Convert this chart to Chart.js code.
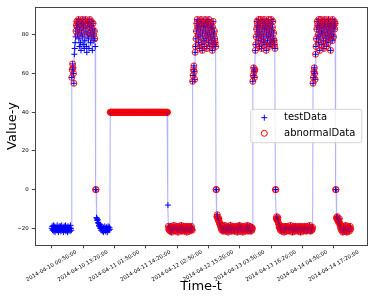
<!DOCTYPE html>
<html>
<head>
<meta charset="utf-8">
<script src="https://cdn.jsdelivr.net/npm/chart.js@4/dist/chart.umd.min.js"></script>
<style>
  html, body { margin: 0; padding: 0; background: #ffffff; }
</style>
</head>
<body>
<canvas id="c" width="374" height="299"></canvas>
<script>
// ---------------- data ----------------
const tickLabels = [
  '2014-04-10 00:50:00', '2014-04-10 13:20:00', '2014-04-11 01:50:00',
  '2014-04-11 14:20:00', '2014-04-12 02:50:00', '2014-04-12 15:20:00',
  '2014-04-13 03:50:00', '2014-04-13 16:20:00', '2014-04-14 04:50:00',
  '2014-04-14 17:20:00'
];
const startTime = '2014-04-10 00:50:00';
const sampleMinutes = 10;            // one value every 10 minutes
const yTicks = [-20, 0, 20, 40, 60, 80];

// testData values, in time order
const day10Low  = [-20, -19, -21, -20.5, -18.5, -21.5, -20, -19,
                   -22, -20.5, -19.5, -21, -20, -18.5, -21, -19.5,
                   -22, -20, -19, -21, -20.5, -19, -21.5, -20,
                   -18.5, -20.5, -21, -19.5, -22, -20, -19, -21,
                   -20.5, -18.5, -21.5, -20, -19.5, -21, -22, -19,
                   -20.5, -21, -19.5, -20, -21.5, -18.5, -20, -21];
const day10Rise = [58, 62, 65, 63, 60, 55];
const day10High = [70, 73, 76, 79, 82, 85, 87, 84, 80, 86,
                   88, 78, 74, 83, 87, 76, 72, 81, 86, 88,
                   79, 75, 84, 87, 73, 77, 85, 88, 82, 74,
                   71, 80, 86, 87, 78, 73, 84, 88, 81, 76,
                   85, 87, 79, 72, 83, 86, 80, 77, 82, 78, 74];
const day10Drop = [0, 0];
const day10Eve  = [-14.5, -15, -16, -15.5, -17, -17.5, -18.5, -19, -18, -20,
                   -19.5, -21, -20, -19, -21.5, -20.5, -19.5, -22, -20, -21,
                   -19, -20.5, -21.5, -20, -19.5, -21, -22, -20, -19, -20.5,
                   -21, -19.5, -20.5];
const day11Flat = [40, 40, 40, 40, 40, 40, 40, 40, 40, 40, 40, 40, 40, 40, 40, 40, 40, 40, 40, 40, 40, 40, 40,
                   40, 40, 40, 40, 40, 40, 40, 40, 40, 40, 40, 40, 40, 40, 40, 40, 40, 40, 40, 40, 40, 40, 40,
                   40, 40, 40, 40, 40, 40, 40, 40, 40, 40, 40, 40, 40, 40, 40, 40, 40, 40, 40, 40, 40, 40, 40,
                   40, 40, 40, 40, 40, 40, 40, 40, 40, 40, 40, 40, 40, 40, 40, 40, 40, 40, 40, 40, 40, 40, 40,
                   40, 40, 40, 40, 40, 40, 40, 40, 40, 40, 40, 40, 40, 40, 40, 40, 40, 40, 40, 40, 40, 40, 40,
                   40, 40, 40, 40, 40, 40, 40, 40, 40, 40, 40, 40, 40, 40, 40, 40, 40, 40, 40, 40, 40, 40, 40];
const day11End  = [-8];
const day12Low  = [-19, -20.5, -21, -19.5, -20, -21.5, -19, -20.5, -22, -20,
                   -19.5, -21, -20, -18.5, -21, -20.5, -19.5, -21.5, -20, -19,
                   -21, -20.5, -19.5, -22, -20, -19, -21, -20.5, -19.5, -21,
                   -20, -18.5, -21.5, -20, -19.5, -21, -20.5, -19, -21.5, -20,
                   -19.5, -21, -20, -19, -22, -20.5, -19.5, -21, -20, -19,
                   -21.5, -20.5, -19.5, -21, -20, -19, -20.5, -21];
const day12Rise = [56, 59, 62, 64, 61, 57];
const day12High = [71, 74, 78, 82, 86, 88, 84, 80, 76, 85,
                   87, 73, 79, 83, 88, 86, 75, 72, 81, 87,
                   84, 77, 74, 85, 88, 82, 78, 86, 73, 80,
                   87, 84, 76, 88, 81, 74, 85, 79, 86, 83,
                   77, 72, 84, 87, 80, 75, 82, 78, 76, 74];
const day12Drop = [0, 0];
const day12Eve  = [-14, -13, -14.5, -15.5, -16, -15, -17, -18, -17.5, -19,
                   -20, -18.5, -21, -19.5, -20.5, -21.5, -19, -20, -21, -18.5,
                   -20.5, -21.5, -19.5, -20, -21, -19, -20.5, -22, -20, -19.5,
                   -21, -20, -18.5, -21, -20.5, -19.5, -21.5, -20, -19, -20.5,
                   -21, -19.5, -20, -21.5, -20, -19, -20.5, -21, -19.5, -22,
                   -20, -19, -21, -20.5, -18.5, -20, -21.5, -19.5, -20.5, -21,
                   -19, -20, -22, -20.5, -19.5, -21, -20, -19, -21.5, -20.5,
                   -19.5, -21, -20, -18.5, -20.5, -21.5, -19.5, -20, -21, -19,
                   -20.5, -21.5, -20, -19.5, -21, -20];
const day13Rise = [56, 59, 63, 61, 58, 62];
const day13High = [72, 75, 79, 83, 87, 85, 81, 77, 88, 84,
                   74, 80, 86, 88, 78, 73, 82, 87, 85, 76,
                   79, 88, 83, 75, 86, 84, 72, 81, 87, 77,
                   85, 88, 80, 74, 83, 86, 79, 75, 88, 82,
                   76, 84, 87, 78, 81, 77, 75, 73];
const day13Drop = [0, 0];
const day13Eve  = [-15, -14, -15.5, -16, -14.5, -17, -18, -19.5, -18.5, -20,
                   -21, -19.5, -20.5, -21.5, -19, -20, -21, -20.5, -19.5, -22,
                   -20, -19, -21, -20.5, -19.5, -21.5, -20, -19, -20.5, -21,
                   -19.5, -20, -21.5, -20, -18.5, -20.5, -21, -19.5, -20, -22,
                   -20.5, -19, -21, -20, -19.5, -21.5, -20, -19, -20.5, -21,
                   -19.5, -20, -21.5, -20.5, -19, -21, -20, -19.5, -22, -20,
                   -19, -20.5, -21, -19.5, -20.5, -21.5, -20, -19, -21, -20.5,
                   -19.5, -20, -21.5, -19, -20.5, -21, -20, -19.5, -21, -20,
                   -18.5, -20.5, -21.5, -19.5, -20, -21, -20.5, -19.5];
const day14Rise = [55, 58, 61, 63, 60, 57];
const day14High = [70, 74, 78, 83, 87, 85, 80, 76, 88, 84,
                   72, 79, 86, 88, 82, 75, 81, 87, 84, 77,
                   73, 85, 88, 80, 86, 78, 74, 83, 87, 81,
                   76, 88, 84, 79, 85, 87, 72, 82, 86, 80,
                   77, 88, 84, 79, 85, 87, 83, 86];
const day14Drop = [0, 0];
const day14Eve  = [-14.5, -15, -14, -16, -15.5, -17, -16.5, -15, -17.5, -18.5,
                   -20, -19, -21, -19.5, -20.5, -22, -20, -19, -21.5, -20.5,
                   -19.5, -21, -18.5, -20, -21.5, -22, -20.5, -19, -21, -20,
                   -19.5, -21.5, -20, -19, -20.5];

// sample-index ranges (inclusive) that are also marked as abnormalData
const abnormalRanges = [[48, 53], [58, 64], [67, 68], [71, 73], [76, 77], [80, 82], [85, 87],
                        [90, 92], [94, 95], [98, 100], [102, 103], [105, 106], [140, 277], [279, 715]];

// ---------------- build ----------------
const testValues = [].concat(day10Low, day10Rise, day10High, day10Drop, day10Eve,
  day11Flat, day11End, day12Low, day12Rise, day12High, day12Drop, day12Eve,
  day13Rise, day13High, day13Drop, day13Eve, day14Rise, day14High, day14Drop, day14Eve);

function parseT(s) {
  const m = s.match(/(\d+)-(\d+)-(\d+) (\d+):(\d+):(\d+)/);
  return Date.UTC(+m[1], +m[2] - 1, +m[3], +m[4], +m[5], +m[6]) / 60000;
}
const t0 = parseT(startTime);
const tickMinutes = tickLabels.map(l => parseT(l) - t0);

const testPoints = testValues.map((v, i) => ({x: i * sampleMinutes, y: v}));
const abnormalPoints = [];
abnormalRanges.forEach(([a, b]) => {
  for (let i = a; i <= b && i < testPoints.length; i++) abnormalPoints.push(testPoints[i]);
});

const FONT = 'DejaVu Sans';

const framePlugin = {
  id: 'frame',
  afterDatasetsDraw(chart) {
    const {ctx, chartArea: ca} = chart;
    ctx.save();
    ctx.strokeStyle = '#444';
    ctx.lineWidth = 1;
    ctx.strokeRect(Math.round(ca.left) + 0.5, Math.round(ca.top) + 0.5,
                   Math.round(ca.right) - Math.round(ca.left), Math.round(ca.bottom) - Math.round(ca.top));
    ctx.restore();
  },
  afterDraw(chart) {
    const {ctx, chartArea: ca} = chart;
    const ds = chart.data.datasets;
    const w = 111, h = 33.4;
    const x0 = ca.right - 5.6 - w;
    const y0 = (ca.top + ca.bottom) / 2 - h / 2;
    ctx.save();
    ctx.beginPath();
    const r = 2;
    ctx.moveTo(x0 + r, y0);
    ctx.arcTo(x0 + w, y0, x0 + w, y0 + h, r);
    ctx.arcTo(x0 + w, y0 + h, x0, y0 + h, r);
    ctx.arcTo(x0, y0 + h, x0, y0, r);
    ctx.arcTo(x0, y0, x0 + w, y0, r);
    ctx.closePath();
    ctx.fillStyle = 'rgba(255,255,255,0.8)';
    ctx.fill();
    ctx.strokeStyle = 'rgba(204,204,204,0.8)';
    ctx.lineWidth = 1;
    ctx.stroke();

    const mx = x0 + 13.6, tx = x0 + 33.3;
    const rows = [y0 + 8.4, y0 + 24];
    ctx.strokeStyle = ds[0].pointBorderColor;
    ctx.lineWidth = 1;
    ctx.beginPath();
    ctx.moveTo(mx - 3, rows[0]); ctx.lineTo(mx + 3, rows[0]);
    ctx.moveTo(mx, rows[0] - 3); ctx.lineTo(mx, rows[0] + 3);
    ctx.stroke();
    ctx.strokeStyle = ds[1].pointBorderColor;
    ctx.beginPath();
    ctx.arc(mx, rows[1], 3.0, 0, Math.PI * 2);
    ctx.stroke();

    ctx.fillStyle = '#000';
    ctx.font = '10px "' + FONT + '"';
    ctx.textBaseline = 'middle';
    ctx.textAlign = 'left';
    ctx.fillText(ds[0].label, tx, rows[0]);
    ctx.fillText(ds[1].label, tx, rows[1]);
    ctx.restore();
  }
};

new Chart(document.getElementById('c'), {
  type: 'scatter',
  data: {
    datasets: [
      {
        label: 'testData',
        data: testPoints,
        showLine: false,
        pointStyle: 'cross',
        pointRadius: 3,
        pointBorderWidth: 1,
        pointBorderColor: '#0000ff',
        pointBackgroundColor: '#0000ff',
        order: 3
      },
      {
        label: 'abnormalData',
        data: abnormalPoints,
        showLine: false,
        pointStyle: 'circle',
        pointRadius: 3.0,
        pointBorderWidth: 0.9,
        pointBorderColor: '#ff0000',
        pointBackgroundColor: 'rgba(0,0,0,0)',
        order: 2
      },
      {
        label: 'testData line',
        data: testPoints,
        showLine: true,
        borderColor: 'rgba(0,0,255,0.3)',
        borderWidth: 1.1,
        pointRadius: 0,
        order: 1
      }
    ]
  },
  options: {
    responsive: false,
    animation: false,
    devicePixelRatio: 1,
    layout: { padding: { left: 0, right: 6.7, top: 6.7, bottom: 0 } },
    plugins: { legend: { display: false }, tooltip: { enabled: false } },
    scales: {
      x: {
        type: 'linear',
        min: -403.5,
        max: 7548,
        grid: { drawOnChartArea: false, drawTicks: true, tickLength: 3, color: '#444', tickWidth: 1 },
        border: { display: false },
        afterBuildTicks: s => { s.ticks = tickMinutes.map(v => ({value: v})); },
        afterFit: s => { s.height = 53.7; },
        ticks: {
          autoSkip: false,
          minRotation: 30,
          maxRotation: 30,
          labelOffset: 24.5,
          padding: 0.5,
          color: '#000',
          font: { family: FONT, size: 5.4 },
          callback: (v, i) => tickLabels[i]
        },
        title: { display: true, text: 'Time-t', color: '#000', font: { family: FONT, size: 13 }, padding: { top: 0, bottom: 4.5 } }
      },
      y: {
        type: 'linear',
        min: -28.8,
        max: 94.6,
        grid: { drawOnChartArea: false, drawTicks: true, tickLength: 3, color: '#444', tickWidth: 1 },
        border: { display: false },
        afterBuildTicks: s => { s.ticks = yTicks.map(v => ({value: v})); },
        afterFit: s => { s.width = 32.3; },
        ticks: {
          padding: 3,
          color: '#000',
          font: { family: FONT, size: 5.5 },
          callback: v => String(v).replace('-', '\u2212')
        },
        title: { display: true, text: 'Value-y', color: '#000', font: { family: FONT, size: 13 }, padding: { top: 2.7, bottom: 0 } }
      }
    }
  },
  plugins: [framePlugin]
});
</script>
</body>
</html>
